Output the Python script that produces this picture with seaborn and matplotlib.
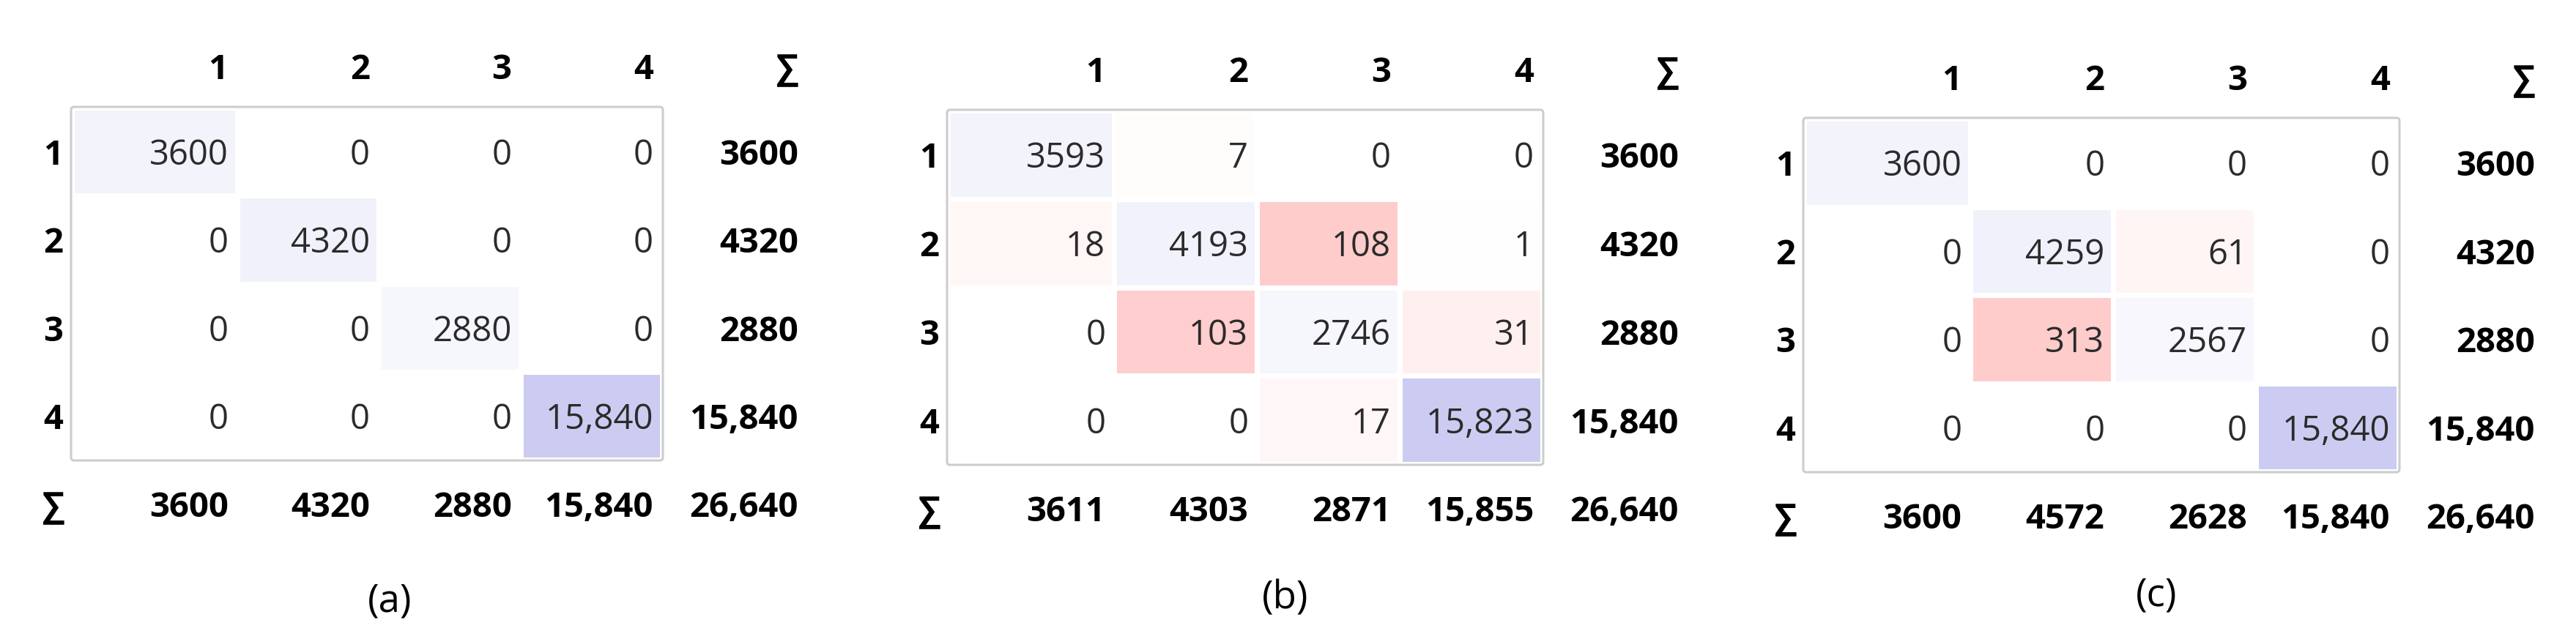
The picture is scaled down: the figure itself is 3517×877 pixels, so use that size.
import numpy as np
import matplotlib as mpl
mpl.use('Agg')
import matplotlib.pyplot as plt
from matplotlib.colors import LinearSegmentedColormap
from matplotlib.patches import FancyBboxPatch
import seaborn as sns

# class labels and captions
classes = ['1', '2', '3', '4']
sum_label = '\u2211'
panel_labels = ['(a)', '(b)', '(c)']

# confusion matrices (rows = true class, cols = predicted class)
conf_a = [[3600, 0, 0, 0],
          [0, 4320, 0, 0],
          [0, 0, 2880, 0],
          [0, 0, 0, 15840]]
conf_b = [[3593, 7, 0, 0],
          [18, 4193, 108, 1],
          [0, 103, 2746, 31],
          [0, 0, 17, 15823]]
conf_c = [[3600, 0, 0, 0],
          [0, 4259, 61, 0],
          [0, 313, 2567, 0],
          [0, 0, 0, 15840]]

W, H, DPI = 3517, 878, 100
plt.rcParams['font.family'] = ['Open Sans', 'DejaVu Sans']

# matrix frame of each panel in pixels: left, top, right, bottom
boxes = [(97, 147, 905, 630), (1293, 151, 2107, 636), (2462, 162, 3276, 646)]
caption_pos = [(532, 822), (1755, 818), (2944, 814)]
# first column is a bit wider than the others
col_edges = [0, 0.28, 0.52, 0.76, 1.0]
FS = 34

cmap = LinearSegmentedColormap.from_list('conf', ['#ffcccc', '#ffffff', '#ccccf2'])


def fmt(v):
    return '{:,}'.format(v) if v >= 10000 else str(v)


def shade(m):
    # blue for hits, red for misses, each scaled inside its own matrix
    m = np.asarray(m, dtype=float)
    diag = np.eye(len(m), dtype=bool)
    out = np.zeros_like(m)
    out[diag] = m[diag] / m[diag].max()
    off = m[~diag]
    if off.max() > 0:
        out[~diag] = -off / off.max()
    return out


def fwd(x):
    return np.interp(x, [0, 1, 2, 3, 4], col_edges)


def inv(x):
    return np.interp(x, col_edges, [0, 1, 2, 3, 4])


def draw_panel(fig, conf, box, caption, cpos):
    l, t, r, b = box
    m = np.asarray(conf)
    n = len(m)
    ax = fig.add_axes([(l + 1) / W, 1 - (b - 1) / H, (r - l - 2) / W, (b - t - 2) / H])
    sns.heatmap(shade(m), ax=ax, cmap=cmap, vmin=-1, vmax=1, cbar=False,
                linewidths=5, linecolor='white', xticklabels=False, yticklabels=False)
    ax.set_xscale('function', functions=(fwd, inv))
    ax.set_xlim(0, n)
    ax.set_ylim(n, 0)
    ax.set_xticks([])
    ax.set_yticks([])
    ax.minorticks_off()
    for s in ax.spines.values():
        s.set_visible(False)

    # frame
    frame = FancyBboxPatch((l / W, 1 - b / H), (r - l) / W, (b - t) / H,
                           boxstyle='round,pad=0,rounding_size=0.0012',
                           mutation_aspect=W / H, transform=fig.transFigure,
                           fc='none', ec='#cdcdcd', lw=2.2, zorder=5)
    fig.add_artist(frame)

    kw = dict(textcoords='offset pixels', va='baseline', annotation_clip=False)
    bold = dict(fontsize=FS, fontweight='bold', color='black')
    for i in range(n):
        for j in range(n):
            ax.annotate(fmt(m[i, j]), xy=(j + 1, i + 0.5), xytext=(-12, -17),
                        ha='right', fontsize=FS, color='#2b2b2b', **kw)
    row_sum = m.sum(axis=1)
    col_sum = m.sum(axis=0)
    for k in range(n):
        # column header and row label
        ax.annotate(classes[k], xy=(k + 1, 0), xytext=(-12, 40), ha='right', **bold, **kw)
        ax.annotate(classes[k], xy=(0, k + 0.5), xytext=(-25, -17), ha='center', **bold, **kw)
        # sums
        ax.annotate(fmt(row_sum[k]), xy=(n, k + 0.5), xytext=(186, -17), ha='right', **bold, **kw)
        ax.annotate(fmt(col_sum[k]), xy=(k + 1, n), xytext=(-12, -77), ha='right', **bold, **kw)
    ax.annotate(sum_label, xy=(n, 0), xytext=(186, 40), ha='right', **bold, **kw)
    ax.annotate(sum_label, xy=(0, n), xytext=(-25, -77), ha='center', **bold, **kw)
    ax.annotate(fmt(m.sum()), xy=(n, n), xytext=(186, -77), ha='right', **bold, **kw)

    fig.text(cpos[0] / W, 1 - cpos[1] / H, caption, ha='center', va='center',
             fontsize=38, color='black')


fig = plt.figure(figsize=(W / DPI, H / DPI), dpi=DPI)
fig.patch.set_facecolor('white')
for conf, box, cap, cpos in zip([conf_a, conf_b, conf_c], boxes, panel_labels, caption_pos):
    draw_panel(fig, conf, box, cap, cpos)

fig.savefig('out.png', dpi=DPI, facecolor='white')
